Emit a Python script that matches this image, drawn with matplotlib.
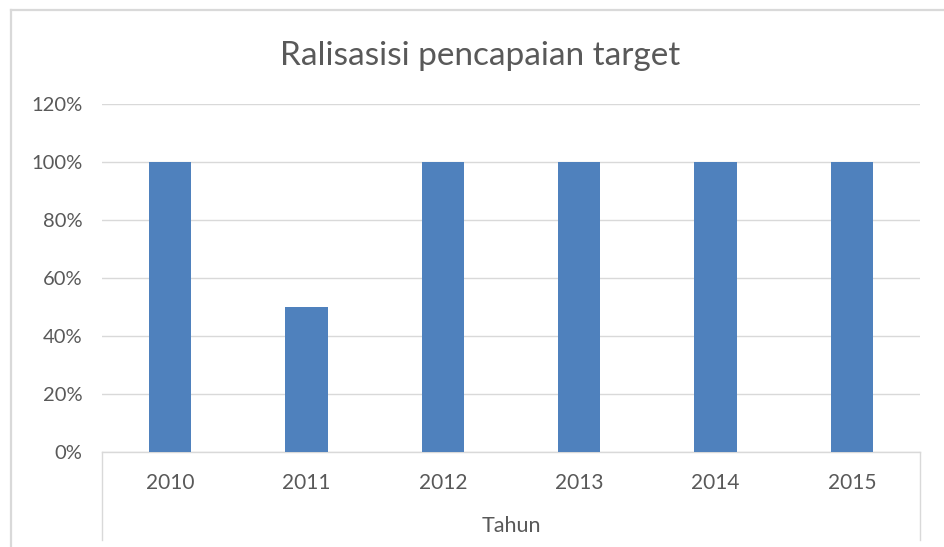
import matplotlib.pyplot as plt
from matplotlib.lines import Line2D
from matplotlib.ticker import PercentFormatter

years = ['2010', '2011', '2012', '2013', '2014', '2015']
realisasi = [1.0, 0.5, 1.0, 1.0, 1.0, 1.0]
y_ticks = [0, 0.2, 0.4, 0.6, 0.8, 1.0, 1.2]

text_color = '#595959'
grid_color = '#d9d9d9'
bar_color = '#4f81bd'

plt.rcParams['font.family'] = ['Lato', 'DejaVu Sans']

fig = plt.figure(figsize=(9.44, 5.47), dpi=100)
fig.patch.set_facecolor('white')
ax = fig.add_axes([102 / 944, 95 / 547, 818 / 944, 348 / 547])

x = list(range(len(years)))
ax.bar(x, realisasi, width=0.31, color=bar_color, zorder=3)

ax.set_xlim(-0.5, len(years) - 0.5)
ax.set_ylim(0, 1.2)
ax.set_yticks(y_ticks)
ax.yaxis.set_major_formatter(PercentFormatter(1.0, decimals=0))
ax.set_xticks(x)
ax.set_xticklabels(years)
ax.grid(axis='y', color=grid_color, linewidth=1, zorder=0)

for side in ['top', 'right', 'left']:
    ax.spines[side].set_visible(False)
ax.spines['bottom'].set_color(grid_color)
ax.spines['bottom'].set_linewidth(1)

ax.tick_params(axis='y', length=0, pad=14, labelsize=14.5, labelcolor=text_color)
ax.tick_params(axis='x', length=0, pad=15, labelsize=15, labelcolor=text_color)

# category box lines going down from the axis ends
for xa in [0, 1]:
    ax.add_line(Line2D([xa, xa], [0, -0.253], transform=ax.transAxes,
                       color=grid_color, linewidth=1, clip_on=False))

# outer chart frame (left and top)
fig.add_artist(Line2D([11 / 944, 11 / 944], [0, 1 - 10 / 547],
                      transform=fig.transFigure, color=grid_color, linewidth=1.6))
fig.add_artist(Line2D([11 / 944, 1], [1 - 10 / 547, 1 - 10 / 547],
                      transform=fig.transFigure, color=grid_color, linewidth=1.6))

fig.text(480 / 944, 1 - 65 / 547, 'Ralisasisi pencapaian target', ha='center',
         va='baseline', fontsize=24, color=text_color)
fig.text(511 / 944, 1 - 532 / 547, 'Tahun', ha='center', va='baseline',
         fontsize=15.5, color=text_color)

plt.savefig('out.png', dpi=100)
